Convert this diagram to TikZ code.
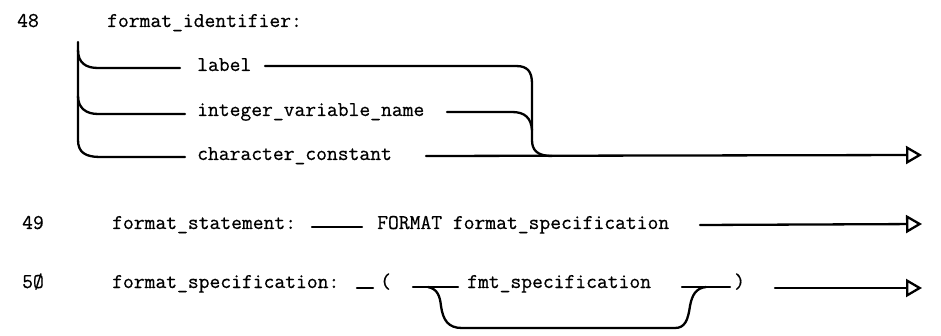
\documentclass[tikz,border=0pt]{standalone}
\usepackage{fontspec}
\newfontfamily\twfont{Latin Modern Mono}[FakeBold=0.6]
\usetikzlibrary{arrows.meta}
\begin{document}
\begin{tikzpicture}[x=1pt,y=-1pt,
  txt/.style={font=\twfont\fontsize{21}{23}\selectfont, inner sep=0pt, anchor=base west},
  rail/.style={line width=2.3pt, line cap=round},
  endarrow/.style={rail, -{Triangle[open,length=16pt,width=18pt,line width=2.3pt]}}]
\fill[white] (0,0) rectangle (941,336);
\useasboundingbox (0,0) rectangle (941,336);

% ---- rule 48
\node[txt] (n48) at (17,27) {48};
\node[txt] (fid) at (107,27) {format\_identifier:};
\node[txt] (lab) at (197,71) {label};
\node[txt] (ivn) at (197,116) {integer\_variable\_name};
\node[txt] (cc)  at (197,160) {character\_constant};

\coordinate (ltop) at (78,42);
\coordinate (lbot) at (78,140);
\coordinate (labL) at (180,68);
\coordinate (ivnL) at (185,114);
\coordinate (ccL)  at (185,157);
\coordinate (labR) at (265,66);
\coordinate (ivnR) at (447,112);
\coordinate (ccR)  at (426,156);
\coordinate (rv)   at (532,140);
\coordinate (end48) at (922,155);

\draw[rail] (ltop) -- (lbot) .. controls (78,152) and (85,157) .. (100,157) -- (ccL);
\draw[rail] (78,50) .. controls (78,63) and (86,68) .. (98,68) -- (labL);
\draw[rail] (78,96) .. controls (78,108) and (86,114) .. (98,114) -- (ivnL);

\draw[rail] (labR) -- (516,66) .. controls (528,66) and (532,72) .. (532,84) -- (rv)
  .. controls (532,150) and (537,156) .. (552,156);
\draw[rail] (ivnR) -- (512,112) .. controls (525,112) and (531,118) .. (532,130);
\draw[endarrow] (ccR) -- (end48);

% ---- rule 49
\node[txt] (n49) at (22,229) {49};
\node[txt] (fst) at (112,229) {format\_statement:};
\node[txt] (fmt) at (377,229) {FORMAT format\_specification};
\coordinate (a49) at (312,227);
\coordinate (b49) at (362,227);
\coordinate (c49) at (700,225);
\coordinate (end49) at (922,224);
\draw[rail] (a49) -- (b49);
\draw[endarrow] (c49) -- (end49);

% ---- rule 50
\node[txt] (n50) at (22,288) {5Ø};
\node[txt] (fsp) at (112,288) {format\_specification:};
\node[txt] (lp)  at (380,288) {(};
\node[txt] (fs)  at (467,288) {fmt\_specification};
\node[txt] (rp)  at (734,288) {)};
\coordinate (a50) at (357,288);
\coordinate (b50) at (373,288);
\coordinate (c50) at (413,287);
\coordinate (d50) at (458,287);
\coordinate (e50) at (682,287);
\coordinate (f50) at (730,287);
\coordinate (g50) at (775,288);
\coordinate (end50) at (922,288);
\draw[rail] (a50) -- (b50);
\draw[rail] (c50) -- (d50);
\draw[rail] (e50) -- (f50);
\draw[endarrow] (g50) -- (end50);
\draw[rail] (428,287) .. controls (438,289) and (440,297) .. (441,306)
  .. controls (443,320) and (448,328) .. (462,328) -- (675,328)
  .. controls (685,328) and (688,320) .. (690,306)
  .. controls (692,295) and (696,288) .. (706,287);
\end{tikzpicture}
\end{document}
